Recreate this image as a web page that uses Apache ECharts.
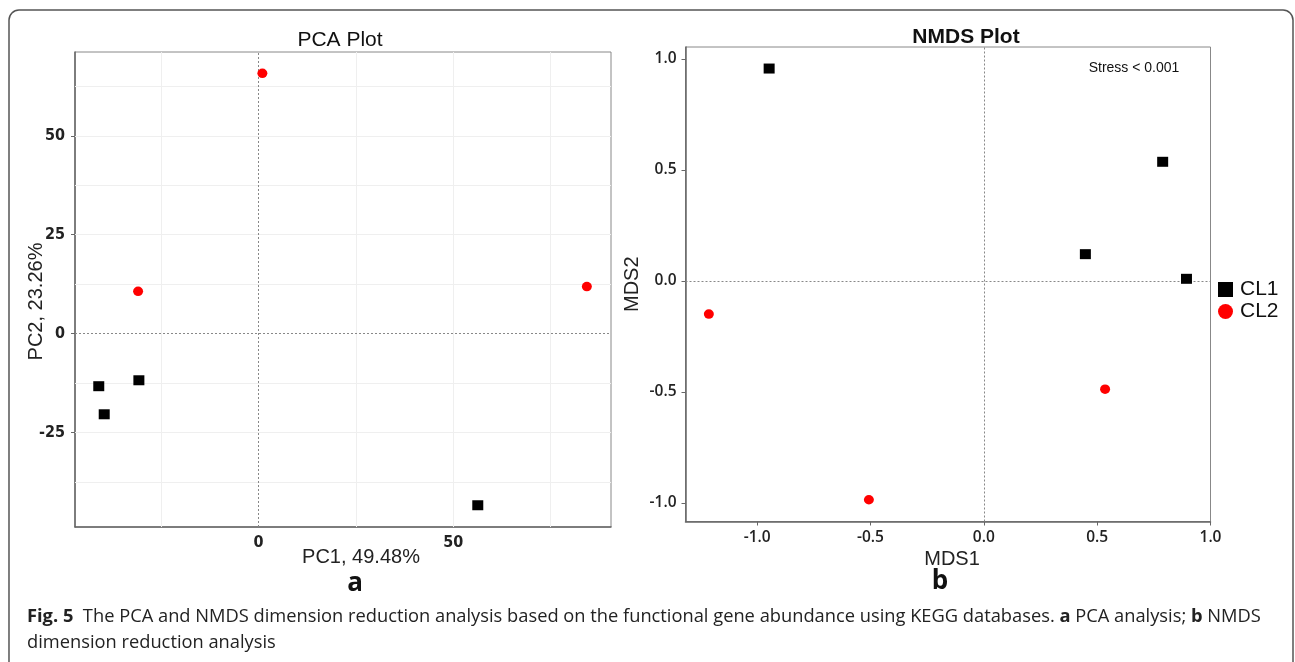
<!DOCTYPE html>
<html><head><meta charset="utf-8">
<script src="https://cdn.jsdelivr.net/npm/echarts@6/dist/echarts.min.js"></script>
<style>html,body{margin:0;padding:0;background:#fff}#c{width:1295px;height:662px}</style>
</head><body><div id="c"></div><script>
// ---------- data ----------
const groups = ['CL1', 'CL2'];
const pcaCL1 = [[-41.0, -13.3], [-30.7, -11.8], [-39.6, -20.4], [56.3, -43.4]];
const pcaCL2 = [[1.0, 65.8], [-30.9, 10.7], [84.3, 11.9]];
const nmdsCL1 = [[-0.947, 0.956], [0.789, 0.536], [0.448, 0.120], [0.894, 0.009]];
const nmdsCL2 = [[-1.213, -0.150], [-0.507, -0.986], [0.535, -0.488]];
const pcaXTicks = [0, 50];
const pcaYTicks = [-25, 0, 25, 50];
const pcaXGrid = [-25, 25, 50, 75];
const pcaYGrid = [-37.5, -25, -12.5, 12.5, 25, 37.5, 50, 62.5];
const nmdsXTicks = [-1.0, -0.5, 0.0, 0.5, 1.0];
const nmdsYTicks = [-1.0, -0.5, 0.0, 0.5, 1.0];

// ---------- styles ----------
const pcaLabel = {fontFamily: "'Liberation Sans Narrow', 'DejaVu Sans Condensed', Roboto, sans-serif", fontWeight: 'bold', fontSize: 16, color: '#222'};
const nmdsLabel = {fontFamily: 'Open Sans', fontWeight: 600, fontSize: 15.5, color: '#222'};
const nameStyle = {fontFamily: 'Liberation Sans', fontSize: 20, color: '#222'};
const axLine = {show: true, onZero: false, lineStyle: {color: '#666', width: 1.5}};
const fmt1 = v => v.toFixed(1);

const chart = echarts.init(document.getElementById('c'), null, {renderer: 'canvas'});

function gridSeries(xi, xs, ys) {
  return {
    type: 'scatter', xAxisIndex: xi, yAxisIndex: xi, data: [], silent: true, z: 1,
    markLine: {
      silent: true, symbol: 'none', animation: false, label: {show: false},
      lineStyle: {color: '#efefef', type: 'solid', width: 1},
      data: xs.map(v => ({xAxis: v})).concat(ys.map(v => ({yAxis: v})))
    }
  };
}
function zeroSeries(xi) {
  return {
    type: 'scatter', xAxisIndex: xi, yAxisIndex: xi, data: [], silent: true, z: 2,
    markLine: {
      silent: true, symbol: 'none', animation: false, label: {show: false},
      lineStyle: {color: '#888', type: [2, 2], width: 1},
      data: [{xAxis: 0}, {yAxis: 0}]
    }
  };
}
const sqStyle = {symbol: 'rect', symbolSize: [11, 10], itemStyle: {color: '#000', opacity: 1}};
const ciStyle = {symbol: 'circle', symbolSize: [10, 9.5], itemStyle: {color: '#ff0000', opacity: 1}};

chart.setOption({
  animation: false,
  grid: [
    {left: 75, top: 52, width: 536, height: 475, show: true, borderColor: '#888', borderWidth: 1},
    {left: 685.5, top: 47, width: 525, height: 474.5, show: true, borderColor: '#888', borderWidth: 1}
  ],
  xAxis: [
    {gridIndex: 0, type: 'value', min: -47.1, max: 90.5, axisLine: axLine,
     axisTick: {show: false, customValues: pcaXTicks},
     axisLabel: Object.assign({customValues: pcaXTicks, margin: 8}, pcaLabel),
     splitLine: {show: false},
     name: 'PC1, 49.48%', nameLocation: 'middle', nameGap: 20, nameMoveOverlap: false,
     nameTextStyle: Object.assign({padding: [0, 0, 0, 36]}, nameStyle)},
    {gridIndex: 1, type: 'value', min: -1.316, max: 1.0, axisLine: axLine,
     axisTick: {show: true, customValues: nmdsXTicks, length: 4, lineStyle: {color: '#666'}},
     axisLabel: Object.assign({customValues: nmdsXTicks, margin: 8, formatter: fmt1}, nmdsLabel),
     splitLine: {show: false},
     name: 'MDS1', nameLocation: 'middle', nameGap: 28, nameMoveOverlap: false,
     nameTextStyle: Object.assign({padding: [0, 0, 0, 8]}, nameStyle)}
  ],
  yAxis: [
    {gridIndex: 0, type: 'value', min: -48.9, max: 71.2, axisLine: axLine,
     axisTick: {show: true, customValues: pcaYTicks, length: 4, lineStyle: {color: '#666'}},
     axisLabel: Object.assign({customValues: pcaYTicks, margin: 10}, pcaLabel),
     splitLine: {show: false},
     name: 'PC2, 23.26%', nameLocation: 'middle', nameGap: 29, nameMoveOverlap: false,
     nameTextStyle: Object.assign({padding: [0, 24, 0, 0]}, nameStyle)},
    {gridIndex: 1, type: 'value', min: -1.084, max: 1.053, axisLine: axLine,
     axisTick: {show: true, customValues: nmdsYTicks, length: 4, lineStyle: {color: '#666'}},
     axisLabel: Object.assign({customValues: nmdsYTicks, margin: 9, formatter: fmt1}, nmdsLabel),
     splitLine: {show: false},
     name: 'MDS2', nameLocation: 'middle', nameGap: 43, nameMoveOverlap: false,
     nameTextStyle: nameStyle}
  ],
  legend: {
    data: groups, orient: 'vertical', left: 1218, top: 279, itemWidth: 15, itemHeight: 15, itemGap: 1,
    padding: 0,
    textStyle: {fontFamily: 'Liberation Sans', fontSize: 21, color: '#111', padding: [0, 0, 0, 2]}
  },
  series: [
    gridSeries(0, pcaXGrid, pcaYGrid),
    zeroSeries(0),
    zeroSeries(1),
    Object.assign({type: 'scatter', name: groups[0], xAxisIndex: 0, yAxisIndex: 0, data: pcaCL1, z: 5}, sqStyle),
    Object.assign({type: 'scatter', name: groups[1], xAxisIndex: 0, yAxisIndex: 0, data: pcaCL2, z: 5}, ciStyle),
    Object.assign({type: 'scatter', name: groups[0], xAxisIndex: 1, yAxisIndex: 1, data: nmdsCL1, z: 5}, sqStyle),
    Object.assign({type: 'scatter', name: groups[1], xAxisIndex: 1, yAxisIndex: 1, data: nmdsCL2, z: 5}, ciStyle)
  ],
  graphic: [
    {type: 'rect', shape: {x: 9, y: 10, width: 1284, height: 700, r: 10}, style: {fill: 'none', stroke: '#555', lineWidth: 1.5}, z: -1},
    {type: 'text', x: 340, y: 40, style: {text: 'PCA Plot', align: 'center', verticalAlign: 'middle', fontFamily: 'Liberation Sans', fontSize: 21, fill: '#111'}},
    {type: 'text', x: 966, y: 37, style: {text: 'NMDS Plot', align: 'center', verticalAlign: 'middle', fontFamily: 'Liberation Sans', fontWeight: 'bold', fontSize: 21, fill: '#111'}},
    {type: 'text', x: 1134, y: 68, style: {text: 'Stress < 0.001', align: 'center', verticalAlign: 'middle', fontFamily: 'Liberation Sans', fontSize: 14, fill: '#111'}},
    {type: 'text', x: 355, y: 584, style: {text: 'a', align: 'center', verticalAlign: 'middle', fontFamily: 'Open Sans', fontWeight: 'bold', fontSize: 26, fill: '#111'}},
    {type: 'text', x: 940, y: 582, style: {text: 'b', align: 'center', verticalAlign: 'middle', fontFamily: 'Open Sans', fontWeight: 'bold', fontSize: 26, fill: '#111'}},
    {type: 'text', x: 27, y: 617, style: {
      text: '{b|Fig. 5}  The PCA and NMDS dimension reduction analysis based on the functional gene abundance using KEGG databases. {b|a} PCA analysis; {b|b} NMDS',
      verticalAlign: 'middle', fontFamily: 'Open Sans', fontSize: 18.3, fill: '#222',
      rich: {b: {fontFamily: 'Open Sans', fontWeight: 'bold', fontSize: 18.3, fill: '#222'}}}},
    {type: 'text', x: 27, y: 643, style: {text: 'dimension reduction analysis', verticalAlign: 'middle', fontFamily: 'Open Sans', fontSize: 18.3, fill: '#222'}}
  ]
});
</script></body></html>
